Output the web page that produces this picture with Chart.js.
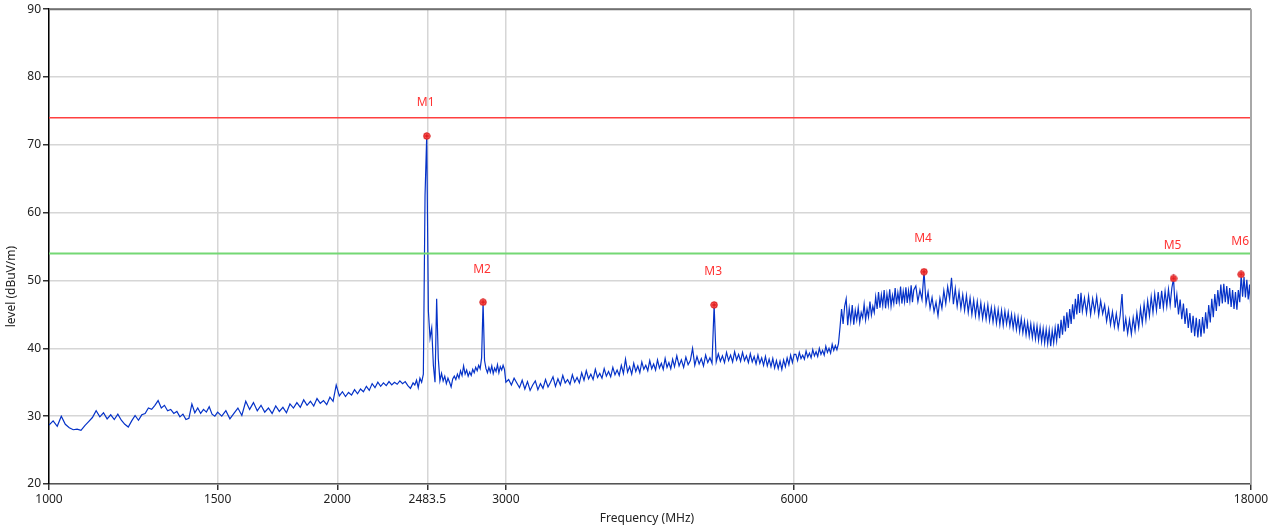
<!DOCTYPE html>
<html>
<head>
<meta charset="utf-8">
<script src="https://cdn.jsdelivr.net/npm/chart.js@4.4.0/dist/chart.umd.min.js"></script>
<style>
  html, body { margin: 0; padding: 0; background: #fff; }
  #chart { display: block; }
</style>
</head>
<body>
<canvas id="chart" width="1275" height="531"></canvas>
<script>
// sweep segments: start frequency (MHz), step (MHz), levels (dBuV/m)
const sweepStart = [1000, 1515, 2410, 3020, 4525, 6025, 8040, 12060];
const sweepStep = [10, 15, 10, 20, 25, 25, 40, 60];

const levels1000 = [28.7, 29.3, 28.5, 30.0, 28.8, 28.3, 28.0, 28.1, 27.9, 28.6,
  29.2, 29.8, 30.8, 29.9, 30.5, 29.6, 30.2, 29.5, 30.3, 29.4,
  28.8, 28.4, 29.3, 30.1, 29.4, 30.2, 30.4, 31.2, 31.0, 31.6,
  32.3, 31.2, 31.6, 30.8, 31.0, 30.4, 30.7, 29.9, 30.3, 29.5,
  29.7, 31.8, 30.5, 31.2, 30.4, 31.0, 30.6, 31.4, 30.3, 30.0, 30.6];

const levels1515 = [30.0, 30.8, 29.6, 30.4, 31.2, 30.1, 32.2, 31.0, 32.0, 30.8,
  31.6, 30.6, 31.2, 30.4, 31.5, 30.7, 31.3, 30.5, 31.8, 31.2,
  32.0, 31.3, 32.4, 31.6, 32.2, 31.5, 32.6, 31.9, 32.3, 31.7,
  32.8, 32.2, 34.6, 33.0, 33.6, 32.9, 33.5, 33.1, 33.9, 33.3,
  34.0, 33.6, 34.4, 33.8, 34.8, 34.2, 35.0, 34.4, 34.9, 34.5,
  35.1, 34.6, 35.0, 34.7, 35.2, 34.8, 35.1, 34.5, 34.1, 34.9];

const levels2410 = [34.6, 35.3, 34.2, 35.6, 35.0, 36.2, 62.5, 71.3, 45.5, 41.5,
  43.0, 37.5, 35.0, 47.3, 38.5, 35.2, 36.3, 35.2, 35.9, 34.8,
  35.6, 35.0, 34.3, 35.5, 35.9, 35.4, 36.2, 35.6, 36.7, 36.0,
  37.4, 36.2, 36.8, 35.9, 36.5, 36.0, 36.9, 36.4, 37.2, 36.7,
  37.5, 37.0, 38.6, 46.8, 38.2, 37.0, 36.4, 37.2, 36.5, 37.4,
  36.3, 37.1, 36.6, 37.6, 36.4, 37.3, 36.8, 37.5, 36.9, 35.0];

const levels3020 = [35.4, 34.6, 35.6, 34.9, 34.2, 35.3, 34.0, 35.1, 33.8, 34.6,
  35.2, 33.9, 34.8, 34.1, 35.4, 34.3, 35.0, 35.8, 34.4, 35.5,
  34.6, 36.0, 34.9, 35.4, 34.7, 36.1, 35.0, 35.7, 34.9, 36.4,
  35.3, 36.7, 35.5, 36.2, 35.4, 36.9, 35.7, 36.3, 35.6, 37.0,
  35.9, 36.6, 35.8, 37.2, 36.1, 36.8, 36.0, 37.5, 36.3, 38.4,
  36.5, 37.3, 36.2, 37.8, 36.6, 37.4, 36.4, 38.0, 36.9, 37.5,
  36.7, 38.2, 37.0, 37.7, 36.8, 38.3, 37.1, 37.8, 36.9, 38.5,
  37.2, 37.9, 37.0, 38.4, 37.3];

const levels4525 = [38.9, 37.4, 38.3, 37.2, 38.7, 37.6, 38.2, 40.0, 37.5, 38.8,
  37.7, 38.5, 37.4, 39.0, 37.9, 38.6, 37.8, 46.4, 38.0, 39.2,
  38.1, 38.9, 37.9, 39.4, 38.2, 39.0, 38.0, 39.5, 38.3, 39.1,
  38.1, 39.4, 38.2, 38.9, 37.9, 39.2, 38.0, 38.8, 37.7, 39.0,
  37.8, 38.6, 37.5, 38.8, 37.4, 38.4, 37.3, 38.5, 37.1, 38.2,
  37.0, 38.1, 36.9, 38.3, 37.3, 38.6, 37.6, 39.0, 37.9, 39.1];

const levels6025 = [39.1, 38.2, 39.4, 38.5, 39.0, 38.4, 39.6, 38.7, 39.3, 38.6,
  39.8, 38.9, 39.5, 38.8, 40.0, 39.1, 39.7, 39.0, 40.3, 39.4,
  40.0, 39.3, 40.6, 39.7, 40.4, 39.8, 40.7, 43.1, 45.8, 43.6,
  46.2, 47.3, 43.4, 45.9, 44.0, 46.4, 43.5, 45.6, 44.2, 46.0,
  43.8, 45.3, 44.5, 46.5, 44.2, 45.8, 44.6, 46.9, 44.9, 46.2,
  45.3, 47.6, 45.8, 48.3, 46.0, 47.9, 46.3, 48.6, 45.9, 48.0,
  46.4, 48.7, 46.2, 47.8, 46.6, 48.9, 46.5, 48.2, 46.8, 49.1,
  46.6, 48.4, 46.9, 49.0, 46.7, 48.5, 47.0, 49.3, 46.8, 48.6];

const levels8040 = [49.2, 46.9, 48.6, 47.2, 51.3, 46.6, 48.3, 45.9, 47.5, 45.4,
  46.8, 44.8, 47.4, 45.9, 48.5, 46.6, 49.1, 47.3, 50.4, 46.5,
  48.8, 46.2, 48.3, 45.9, 47.9, 45.6, 47.8, 45.3, 47.4, 45.0,
  47.1, 44.8, 46.9, 44.6, 46.7, 44.4, 46.3, 44.3, 46.4, 44.1,
  46.0, 43.9, 45.9, 43.7, 45.7, 43.5, 45.6, 43.4, 45.5, 43.6,
  45.3, 43.3, 45.0, 43.0, 44.8, 42.8, 44.6, 42.5, 44.4, 42.3,
  44.0, 42.0, 43.8, 41.8, 43.6, 41.6, 43.4, 41.4, 43.3, 41.2,
  43.1, 41.0, 42.9, 40.8, 42.8, 40.7, 42.7, 40.3, 42.6, 40.8,
  43.0, 41.1, 43.6, 41.5, 44.2, 42.0, 44.8, 42.5, 45.3, 43.0,
  45.8, 43.6, 46.5, 44.3, 47.3, 45.0, 48.0, 45.2, 48.2, 45.5];

const levels12060 = [47.4, 45.2, 47.7, 45.0, 47.3, 45.4, 47.6, 44.9, 47.0, 45.1,
  46.4, 44.0, 45.8, 43.5, 45.4, 43.2, 45.1, 43.0, 44.8, 48.0,
  42.5, 44.4, 42.2, 44.2, 42.1, 44.5, 42.6, 45.2, 43.1, 45.9,
  43.7, 46.5, 44.2, 47.0, 44.8, 47.6, 45.3, 48.0, 45.6, 48.3,
  45.8, 48.5, 46.0, 48.4, 46.2, 48.7, 46.4, 48.9, 50.3, 46.0,
  47.9, 45.0, 47.2, 44.3, 46.6, 43.6, 45.9, 43.0, 45.2, 42.3,
  44.8, 41.8, 44.5, 41.6, 44.3, 41.7, 44.6, 42.2, 45.3, 42.9,
  46.4, 43.8, 47.3, 44.6, 48.0, 45.5, 48.6, 46.2, 49.4, 46.6,
  49.5, 46.8, 49.2, 46.5, 48.9, 46.1, 48.6, 45.8, 48.3, 45.7,
  48.6, 46.8, 50.9, 47.6, 50.5, 47.5, 50.1, 47.2, 49.4, 45.3];

const sweepLevels = [levels1000, levels1515, levels2410, levels3020, levels4525, levels6025, levels8040, levels12060];

// markers
const markerNames = ['M1', 'M2', 'M3', 'M4', 'M5', 'M6'];
const markerFreqs = [2480, 2840, 4950, 8200, 14940, 17580];
const markerLevels = [71.3, 46.8, 46.4, 51.3, 50.3, 50.9];

// limit lines
const limitPeak = 74;
const limitAvg = 54;

// axes
const xTicks = [1000, 1500, 2000, 2483.5, 3000, 6000, 18000];
const yTicks = [20, 30, 40, 50, 60, 70, 80, 90];

const trace = [];
sweepLevels.forEach((lv, s) => {
  lv.forEach((v, i) => trace.push({ x: sweepStart[s] + i * sweepStep[s], y: v }));
});

// small red circle with a cross, like the marker symbol
const markerIcon = document.createElement('canvas');
markerIcon.width = 8;
markerIcon.height = 8;
(function () {
  const c = markerIcon.getContext('2d');
  c.beginPath();
  c.arc(4, 4, 3.2, 0, Math.PI * 2);
  c.fillStyle = '#ff5a5a';
  c.fill();
  c.strokeStyle = '#d41010';
  c.lineWidth = 1;
  c.stroke();
  c.beginPath();
  c.moveTo(2, 4); c.lineTo(6, 4);
  c.moveTo(4, 2); c.lineTo(4, 6);
  c.stroke();
})();

const FONT = '"Noto Sans", "Open Sans", sans-serif';

const extras = {
  id: 'extras',
  afterDatasetsDraw(chart) {
    const { ctx, chartArea: a, scales: { x, y } } = chart;
    ctx.save();
    // frame on top and right
    ctx.strokeStyle = '#707070';
    ctx.lineWidth = 2;
    ctx.beginPath();
    ctx.moveTo(a.left, a.top);
    ctx.lineTo(a.right, a.top);
    ctx.stroke();
    ctx.strokeStyle = '#a8a8a8';
    ctx.beginPath();
    ctx.moveTo(a.right, a.top);
    ctx.lineTo(a.right, a.bottom);
    ctx.stroke();

    // marker labels
    ctx.fillStyle = '#ff3434';
    ctx.font = '12px ' + FONT;
    ctx.textAlign = 'center';
    ctx.textBaseline = 'middle';
    markerNames.forEach((name, i) => {
      ctx.fillText(name, x.getPixelForValue(markerFreqs[i]) - 1, y.getPixelForValue(markerLevels[i]) - 33);
    });

    // axis titles
    ctx.fillStyle = '#222';
    ctx.font = '12px ' + FONT;
    ctx.fillText('Frequency (MHz)', (a.left + a.right) / 2 - 3, chart.height - 12);
    ctx.translate(12, (a.top + a.bottom) / 2 + 40);
    ctx.rotate(-Math.PI / 2);
    ctx.fillText('level (dBuV/m)', 0, 0);
    ctx.restore();
  }
};

new Chart(document.getElementById('chart').getContext('2d'), {
  type: 'line',
  data: {
    datasets: [
      {
        label: 'Markers',
        data: markerFreqs.map((f, i) => ({ x: f, y: markerLevels[i] })),
        showLine: false,
        pointStyle: markerIcon,
        pointRadius: 4,
        order: 0
      },
      {
        label: 'Limit',
        data: [{ x: xTicks[0], y: limitPeak }, { x: xTicks[xTicks.length - 1], y: limitPeak }],
        borderColor: '#ff4040',
        borderWidth: 1.5,
        pointRadius: 0,
        order: 1
      },
      {
        label: 'Limit AV',
        data: [{ x: xTicks[0], y: limitAvg }, { x: xTicks[xTicks.length - 1], y: limitAvg }],
        borderColor: '#74d874',
        borderWidth: 2,
        pointRadius: 0,
        order: 1
      },
      {
        label: 'Trace',
        data: trace,
        borderColor: '#0532c8',
        borderWidth: 1.2,
        pointRadius: 0,
        tension: 0,
        order: 2
      }
    ]
  },
  options: {
    responsive: false,
    animation: false,
    devicePixelRatio: 1,
    layout: { padding: { top: 9, right: 24, left: 0, bottom: 0 } },
    plugins: {
      legend: { display: false },
      tooltip: { enabled: false }
    },
    scales: {
      x: {
        type: 'logarithmic',
        min: 1000,
        max: 18000,
        afterBuildTicks: (scale) => { scale.ticks = xTicks.map(v => ({ value: v })); },
        afterFit: (scale) => { scale.height = 47; },
        ticks: {
          autoSkip: false,
          maxRotation: 0,
          padding: 2,
          color: '#222',
          font: { family: FONT, size: 12 },
          callback: (v) => String(v)
        },
        grid: {
          color: '#d6d6d6',
          lineWidth: 1.5,
          tickColor: '#333',
          tickLength: 6
        },
        border: { color: '#555', width: 1.5 }
      },
      y: {
        min: 20,
        max: 90,
        afterBuildTicks: (scale) => { scale.ticks = yTicks.map(v => ({ value: v })); },
        afterFit: (scale) => { scale.width = 49; },
        ticks: {
          padding: 2,
          color: '#222',
          font: { family: FONT, size: 12 }
        },
        grid: {
          color: '#d6d6d6',
          lineWidth: 1.5,
          tickColor: '#333',
          tickLength: 6
        },
        border: { color: '#000', width: 1.5 }
      }
    }
  },
  plugins: [extras]
});
</script>
</body>
</html>
